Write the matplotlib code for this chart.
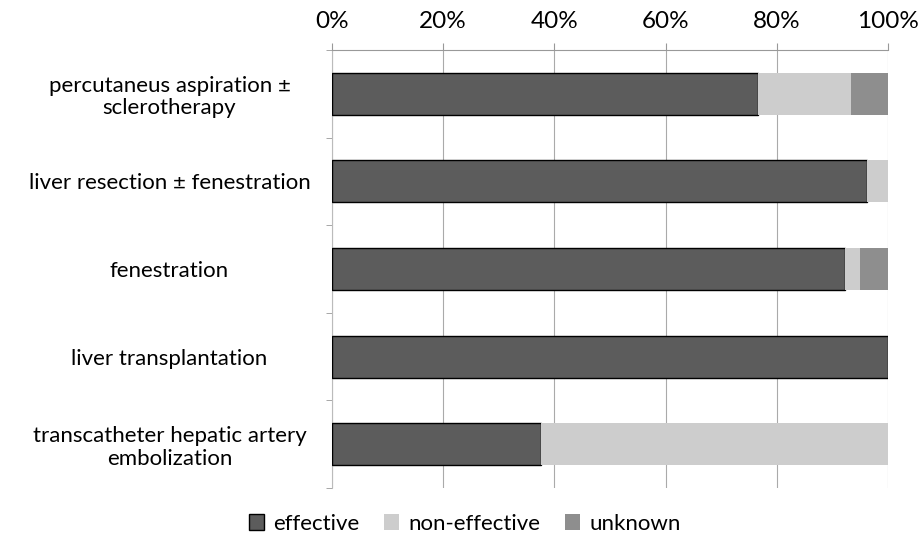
import numpy as np
import matplotlib.pyplot as plt
from matplotlib.ticker import PercentFormatter

plt.rcParams['font.family'] = ['Lato', 'DejaVu Sans']

categories = ['percutaneus aspiration ±\nsclerotherapy',
              'liver resection ± fenestration',
              'fenestration',
              'liver transplantation',
              'transcatheter hepatic artery\nembolization']
effective = [76.7, 96.2, 92.3, 100.0, 37.5]
non_effective = [16.7, 3.8, 2.6, 0.0, 62.5]
unknown = [6.6, 0.0, 5.1, 0.0, 0.0]

colors = ['#5c5c5c', '#cdcdcd', '#8e8e8e']
labels = ['effective', 'non-effective', 'unknown']

fig = plt.figure(figsize=(9.2, 5.35), dpi=100)
ax = fig.add_axes([332/920, 1-488/535, 556/920, 438/535])

y = np.arange(len(categories))
left = np.zeros(len(categories))
for vals, c, lab in zip([effective, non_effective, unknown], colors, labels):
    vals = np.array(vals)
    ec = 'black' if lab == 'effective' else c
    ax.barh(y, vals, left=left, height=0.48, color=c, edgecolor=ec,
            linewidth=1.0 if lab == 'effective' else 0, label=lab, zorder=3)
    left += vals

ax.set_xlim(0, 100)
ax.set_ylim(len(categories)-0.5, -0.5)
ax.set_xticks(np.arange(0, 101, 20))
ax.xaxis.set_major_formatter(PercentFormatter(decimals=0))
ax.xaxis.tick_top()
ax.tick_params(axis='x', length=5, color='#999999', labelsize=17.5, pad=8)
ax.set_yticks(y)
ax.set_yticklabels(categories, fontsize=16, ha='center', linespacing=1.15)
ax.tick_params(axis='y', length=0, pad=117)
ax.set_yticks(np.arange(len(categories)+1)-0.5, minor=True)
ax.tick_params(axis='y', which='minor', length=4, color='#999999')
ax.grid(axis='x', color='#aaaaaa', linewidth=0.8, zorder=0)
for s in ['right', 'bottom']:
    ax.spines[s].set_visible(False)
ax.spines['top'].set_color('#999999')
ax.spines['left'].set_color('#bbbbbb')

fig.legend(loc='lower center', ncol=3, frameon=False, fontsize=16,
           bbox_to_anchor=(0.505, -0.035), handlelength=0.7, handleheight=0.7,
           columnspacing=1.1, handletextpad=0.4)

fig.savefig('out.png', dpi=100)
